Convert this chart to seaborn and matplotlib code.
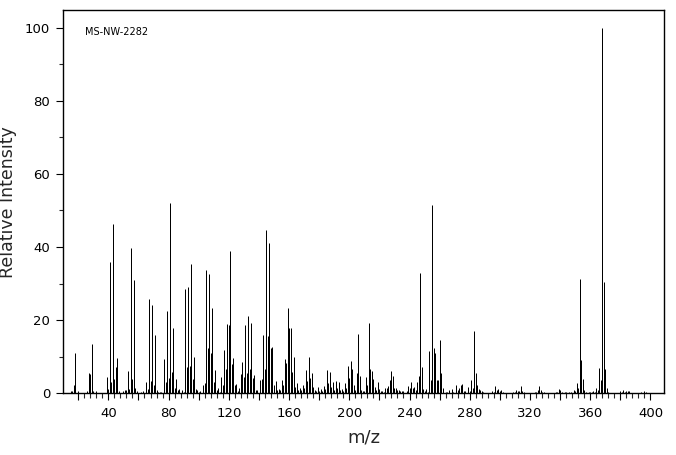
import matplotlib
matplotlib.use("Agg")
import matplotlib.pyplot as plt
from matplotlib.ticker import MultipleLocator, FixedLocator, FuncFormatter
import seaborn as sns
import pandas as pd

mz = [15, 16, 17, 18, 20, 26, 27, 28, 29, 30, 32, 39, 40, 41, 42, 43, 44, 45, 46, 47,
      50, 51, 52, 53, 54, 55, 56, 57, 58, 59, 62, 63, 65, 66, 67, 68, 69, 70, 71, 72,
      73, 74, 75, 77, 78, 79, 80, 81, 82, 83, 84, 85, 86, 87, 89, 90, 91, 92, 93, 94,
      95, 96, 97, 98, 99, 100, 101, 103, 104, 105, 106, 107, 108, 109, 110, 111, 112, 113, 114, 115,
      116, 117, 118, 119, 120, 121, 122, 123, 124, 125, 126, 127, 128, 129, 130, 131, 132, 133, 134, 135,
      136, 137, 138, 139, 141, 142, 143, 144, 145, 146, 147, 148, 149, 150, 151, 152, 153, 154, 155, 156,
      157, 158, 159, 160, 161, 162, 163, 164, 165, 166, 167, 168, 169, 170, 171, 172, 173, 174, 175, 176,
      177, 178, 179, 180, 181, 182, 183, 184, 185, 186, 187, 188, 189, 190, 191, 192, 193, 194, 195, 196,
      197, 198, 199, 200, 201, 202, 203, 204, 205, 206, 207, 208, 209, 210, 211, 212, 213, 214, 215, 216,
      217, 218, 219, 220, 221, 222, 223, 224, 225, 226, 227, 228, 229, 230, 231, 232, 233, 234, 235, 236,
      238, 239, 240, 241, 242, 243, 244, 245, 246, 247, 248, 249, 250, 251, 252, 253, 254, 255, 256, 257,
      258, 259, 260, 261, 262, 264, 265, 266, 268, 269, 271, 272, 273, 274, 275, 276, 277, 279, 280, 281,
      282, 283, 284, 285, 286, 287, 288, 289, 295, 296, 297, 298, 299, 300, 301, 302, 309, 310, 311, 312,
      313, 314, 315, 316, 323, 324, 325, 326, 327, 328, 329, 337, 338, 339, 340, 341, 343, 344, 346, 347,
      349, 350, 351, 352, 353, 354, 355, 356, 357, 359, 360, 361, 362, 363, 364, 365, 366, 367, 368, 369,
      370, 371, 372, 380, 381, 382, 383, 384, 385, 386, 394, 396, 397]

intensity = [0.5, 0.5, 2.3, 11.0, 0.5, 0.5, 5.5, 5.3, 13.5, 0.5, 0.6, 4.5, 1.3, 35.9, 3.1, 46.4, 3.9, 7.2, 9.6, 0.5,
             0.5, 0.9, 0.8, 6.1, 1.2, 39.7, 3.9, 31.0, 1.4, 0.5, 0.4, 0.5, 3.1, 1.2, 25.8, 3.4, 24.2, 2.3, 16.0, 0.9,
             0.4, 0.3, 0.4, 9.4, 3.1, 22.5, 4.3, 52.0, 5.9, 17.9, 1.5, 3.9, 0.9, 1.2, 0.8, 0.4, 28.5, 7.2, 29.1, 7.5,
             35.3, 3.9, 9.9, 1.2, 0.8, 0.4, 0.6, 2.3, 2.8, 33.7, 12.4, 32.6, 11.0, 23.3, 3.1, 6.5, 0.9, 1.4, 0.4, 4.5,
             2.3, 11.8, 6.6, 18.9, 18.7, 38.9, 8.0, 9.6, 2.3, 2.5, 0.5, 1.4, 5.3, 8.6, 4.5, 18.7, 5.5, 21.1, 6.7, 19.3,
             4.2, 4.9, 0.9, 0.9, 3.6, 3.9, 15.9, 6.7, 44.6, 15.7, 41.1, 12.3, 12.7, 2.3, 3.4, 0.9, 1.2, 0.9, 3.6, 2.3,
             9.4, 8.3, 23.3, 17.9, 17.9, 5.9, 9.9, 1.7, 2.8, 0.9, 1.4, 0.9, 2.3, 1.4, 6.4, 3.4, 9.9, 4.2, 5.5, 1.7,
             0.9, 0.6, 1.7, 0.6, 1.2, 0.6, 2.0, 1.2, 6.4, 2.8, 5.9, 1.7, 3.1, 0.9, 3.4, 1.4, 3.1, 0.9, 1.2, 0.6,
             2.8, 1.4, 7.5, 4.2, 8.9, 6.7, 2.3, 0.9, 5.5, 16.2, 4.8, 0.9, 0.6, 0.6, 4.5, 2.3, 19.2, 6.7, 6.1, 3.9,
             1.7, 0.9, 3.1, 1.2, 0.6, 0.6, 0.4, 1.4, 1.4, 2.0, 3.6, 6.1, 4.8, 1.4, 1.4, 0.9, 0.9, 0.5, 0.5, 0.6,
             0.6, 2.0, 1.4, 3.1, 1.4, 1.7, 0.9, 3.1, 4.8, 32.9, 7.3, 1.2, 0.6, 1.2, 0.4, 11.6, 3.6, 51.5, 12.3, 11.0,
             3.6, 3.6, 14.6, 5.5, 1.4, 0.4, 0.4, 0.9, 1.2, 0.4, 2.3, 0.9, 1.4, 2.3, 2.5, 0.6, 0.6, 1.7, 0.6, 3.6,
             1.4, 17.0, 5.5, 2.3, 1.2, 0.9, 0.6, 0.4, 0.6, 0.4, 2.0, 0.9, 1.2, 0.6, 0.9, 0.4, 0.4, 0.4, 0.9, 0.6,
             0.6, 2.0, 0.6, 0.4, 0.4, 0.4, 0.9, 2.0, 0.9, 0.4, 0.4, 0.4, 0.4, 1.2, 0.9, 0.4, 0.4, 0.4, 0.4, 0.4,
             0.9, 0.6, 2.8, 1.4, 31.2, 9.1, 3.9, 0.9, 0.4, 0.4, 0.4, 0.4, 0.6, 0.4, 1.4, 0.9, 6.9, 3.6, 100.0, 30.4,
             6.7, 1.4, 0.4, 0.6, 0.4, 0.9, 0.4, 0.6, 0.6, 0.6, 0.4, 0.6, 0.4]

sample_label = "MS-NW-2282"
x_label = "m/z"
y_label = "Relative Intensity"

df = pd.DataFrame({"mz": mz, "intensity": intensity})

sns.set_style("ticks")
plt.rcParams["font.family"] = ["DejaVu Sans"]

fig = plt.figure(figsize=(6.76, 4.55), dpi=100)
ax = fig.add_axes([0.0928, 0.1356, 0.8899, 0.8424])

sns.barplot(data=df, x="mz", y="intensity", native_scale=True, width=0.001,
            color="black", edgecolor="black", linewidth=0.72, saturation=1,
            ax=ax)

ax.set_xlim(9.7, 409.2)
ax.set_ylim(0, 104.8)

for s in ax.spines.values():
    s.set_color("black")
    s.set_linewidth(1.0)

ax.xaxis.set_major_locator(FixedLocator(list(range(20, 401, 20))))
ax.xaxis.set_minor_locator(FixedLocator(list(range(20, 401, 4))))
ax.xaxis.set_major_formatter(FuncFormatter(lambda v, p: f"{int(v)}" if int(v) % 40 == 0 else ""))
ax.yaxis.set_major_locator(MultipleLocator(20))
ax.yaxis.set_minor_locator(MultipleLocator(10))

ax.tick_params(axis="x", which="major", direction="out", length=5.2, width=0.8,
               labelsize=9.5, pad=5, colors="black")
ax.tick_params(axis="x", which="minor", direction="out", length=3.4, width=0.8)
ax.tick_params(axis="y", which="major", direction="out", length=5, width=0.8,
               labelsize=9.5, pad=4, colors="black")
ax.tick_params(axis="y", which="minor", direction="out", length=3, width=0.8)

ax.set_xlabel(x_label, fontsize=13, labelpad=6)
ax.set_ylabel(y_label, fontsize=12.5, labelpad=6)

ax.text(0.037, 0.955, sample_label, transform=ax.transAxes, fontsize=7,
        ha="left", va="top", color="black")

fig.savefig("out.png", dpi=100)
